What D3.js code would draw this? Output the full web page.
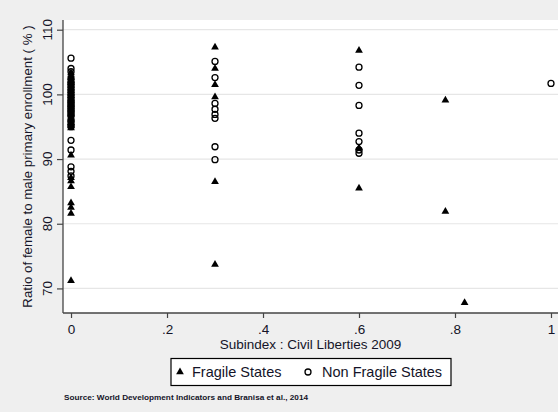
<!DOCTYPE html>
<html><head><meta charset="utf-8">
<script src="https://cdn.jsdelivr.net/npm/d3@7"></script>
<style>
html,body{margin:0;padding:0;background:#efefef;}
text{font-family:"Liberation Sans",Arial,sans-serif;fill:#141428;}
</style></head>
<body><svg id="c" width="558" height="412"></svg>
<script>
// Fragile states: x = civil liberties subindex, y = ratio (%)
const fragileX = [0,0,0,0,0,0,0,0,0,0, 0,0,0,0,0,0,0,0,0,0, 0,0,0,0,0,0,0,0,0,0,
  0,0,0,0,0,0,0,0,0,
  0.3,0.3,0.3,0.3,0.3,0.3, 0.6,0.6,0.6, 0.78,0.78, 0.82];
const fragileY = [71.2,81.6,82.5,83.2,85.7,86.6,87.1,90.6,94.8,95.2, 95.6,96.1,96.5,97.0,97.4,97.8,98.2,98.6,99.0,99.4, 99.8,100.2,100.6,101.0,101.4,101.8,102.2,102.6,103.0,103.3,
  95.9,96.3,96.8,97.2,97.6,98.0,98.4,98.8,99.2,
  107.3,104.0,101.5,99.6,86.5,73.7, 106.8,91.7,85.5, 99.1,81.9, 67.8];
// Non fragile states
const nonFragileX = [0,0,0,0,0,0,0,0,0, 0,0,0,0,0,0,0,0,0,0,0,0,0,0,0,0,0,
  0.3,0.3,0.3,0.3,0.3,0.3,0.3,0.3, 0.6,0.6,0.6,0.6,0.6,0.6,0.6, 1];
const nonFragileY = [105.6,104.0,103.5,101.9,92.9,91.4,88.8,88.1,87.4, 95.3,95.9,96.7,97.2,97.6,98.0,98.4,98.8,99.2,99.6,100.0,100.4,100.8,101.2,101.6,102.4,95.0,
  105.1,102.6,98.6,97.7,96.9,96.3,91.9,89.9, 104.2,101.4,98.3,94.0,92.7,90.9,91.4, 101.7];
const xTicks = [0,0.2,0.4,0.6,0.8,1];
const xTickLabels = ["0",".2",".4",".6",".8","1"];
const yTicks = [70,80,90,100,110];
const xTitle = "Subindex : Civil Liberties 2009";
const yTitle = "Ratio of female to male primary enrollment ( % )";
const legendLabels = ["Fragile States","Non Fragile States"];
const sourceNote = "Source: World Development Indicators and Branisa et al., 2014";

const svg = d3.select("#c");
const L = 63, R = 558, T = 20, B = 313;
const x = d3.scaleLinear().domain([-0.0167, 1.0146]).range([L, R]);
const y = d3.scaleLinear().domain([66.2, 111.5]).range([B, T]);

svg.append("rect").attr("width",558).attr("height",412).attr("fill","#efefef");
svg.append("rect").attr("x",L).attr("y",T).attr("width",R-L).attr("height",B-T).attr("fill","#fff");

// gridlines
svg.append("g").selectAll("line").data(yTicks).join("line")
  .attr("x1",L).attr("x2",R).attr("y1",d=>y(d)).attr("y2",d=>y(d))
  .attr("stroke","#e6e6e6").attr("stroke-width",1.2);

// y axis
const ya = svg.append("g").attr("transform",`translate(${L},0)`)
  .call(d3.axisLeft(y).tickValues(yTicks).tickSize(6).tickFormat(""));
ya.select(".domain").attr("d",`M0,${T}V${B}`).attr("stroke","#444").attr("stroke-width",1.3);
ya.selectAll(".tick line").attr("stroke","#444").attr("stroke-width",1.2);
svg.append("g").selectAll("text").data(yTicks).join("text")
  .attr("transform",d=>`translate(52,${y(d)}) rotate(-90)`)
  .attr("text-anchor","middle").attr("font-size",13.5).text(d=>d);

// x axis
const xa = svg.append("g").attr("transform",`translate(0,${B})`)
  .call(d3.axisBottom(x).tickValues(xTicks).tickSize(5).tickFormat((d,i)=>xTickLabels[i]));
xa.select(".domain").attr("d",`M${L},0H${R}`).attr("stroke","#444").attr("stroke-width",1.3);
xa.selectAll(".tick line").attr("stroke","#444").attr("stroke-width",1.2);
xa.selectAll(".tick text").attr("y",21).attr("dy",0).attr("font-size",13.5)
  .attr("font-family","'Liberation Sans',Arial,sans-serif").attr("fill","#141428");

svg.append("text").attr("x",(L+R)/2).attr("y",349).attr("text-anchor","middle")
  .attr("font-size",13.5).text(xTitle);
svg.append("text").attr("transform",`translate(32,${(T+B)/2}) rotate(-90)`)
  .attr("text-anchor","middle").attr("font-size",13.3).text(yTitle);

// points
const tri = d3.symbol().type(d3.symbolTriangle).size(26);
const fragile = fragileX.map((v,i)=>({x:v,y:fragileY[i]}));
const nonFragile = nonFragileX.map((v,i)=>({x:v,y:nonFragileY[i]}));
svg.append("g").selectAll("circle").data(nonFragile).join("circle")
  .attr("cx",d=>x(d.x)).attr("cy",d=>y(d.y)).attr("r",3)
  .attr("fill","none").attr("stroke","#000").attr("stroke-width",1.3);
svg.append("g").selectAll("path").data(fragile).join("path")
  .attr("d",tri).attr("transform",d=>`translate(${x(d.x)},${y(d.y)})`).attr("fill","#000");

// legend
const lg = svg.append("g");
lg.append("rect").attr("x",171).attr("y",358.5).attr("width",280).attr("height",27)
  .attr("fill","#fff").attr("stroke","#000").attr("stroke-width",1.2);
lg.append("path").attr("d",tri).attr("transform","translate(180,372)").attr("fill","#000");
lg.append("text").attr("x",192).attr("y",377).attr("font-size",14.5).text(legendLabels[0]);
lg.append("circle").attr("cx",308).attr("cy",372).attr("r",3).attr("fill","none")
  .attr("stroke","#000").attr("stroke-width",1.3);
lg.append("text").attr("x",322).attr("y",377).attr("font-size",14.5).text(legendLabels[1]);

svg.append("text").attr("x",64).attr("y",400).attr("font-size",7.5).attr("font-weight","bold")
  .attr("textLength",244).attr("lengthAdjust","spacingAndGlyphs").text(sourceNote);
</script></body></html>
